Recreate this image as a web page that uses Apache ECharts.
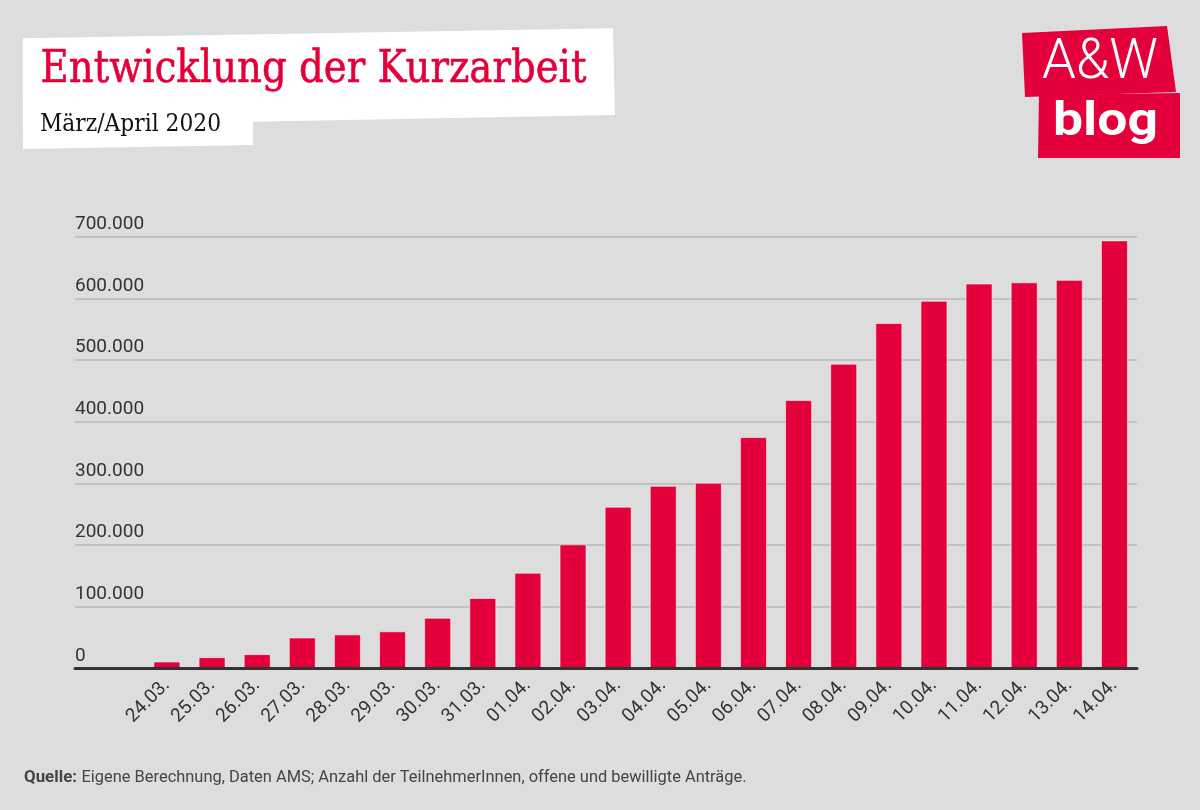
<!DOCTYPE html>
<html>
<head>
<meta charset="utf-8">
<script src="https://cdn.jsdelivr.net/npm/echarts@6/dist/echarts.min.js"></script>
<style>
html,body{margin:0;padding:0;background:#dddddd;}
#chart{width:1200px;height:810px;}
</style>
</head>
<body>
<div id="chart"></div>
<script>
// ---- data ----
const categories = ['24.03.','25.03.','26.03.','27.03.','28.03.','29.03.','30.03.','31.03.',
  '01.04.','02.04.','03.04.','04.04.','05.04.','06.04.','07.04.','08.04.','09.04.','10.04.',
  '11.04.','12.04.','13.04.','14.04.'];
const kurzarbeit = [11000,18000,23000,50000,55000,60000,82000,114000,
  155000,201000,262000,296000,301000,375000,435000,494000,560000,596000,
  624000,626000,630000,694000];
const yTicks = [0,100000,200000,300000,400000,500000,600000,700000];
const titleText = 'Entwicklung der Kurzarbeit';
const subtitleText = 'März/April 2020';
const sourceLabel = 'Quelle:';
const sourceText = 'Eigene Berechnung, Daten AMS; Anzahl der TeilnehmerInnen, offene und bewilligte Anträge.';

// ---- helpers ----
const mctx = document.createElement('canvas').getContext('2d');
function fitScale(text, font, target){
  mctx.font = font;
  const w = mctx.measureText(text).width;
  return target / w;
}
function fmt(v){ return String(v).replace(/\B(?=(\d{3})+(?!\d))/g,'.'); }

const RED = '#e4003a';
const titleFont = '45px "DejaVu Serif"';
const subFont = '25px "DejaVu Serif"';
const srcBoldFont = 'bold 16px Roboto';
const srcFont = '16px Roboto';
const awFont = '300 56px Roboto';
const blogFont = 'bold 47px Roboto';

const chart = echarts.init(document.getElementById('chart'));
const yMax = yTicks[yTicks.length-1];
const yStep = yTicks[1]-yTicks[0];

chart.setOption({
  backgroundColor: '#dddddd',
  animation: false,
  grid: [
    {left: 75, right: 63, top: 236.7, bottom: 141.7},
    {left: 144.4, right: 63, top: 236.7, bottom: 141.7}
  ],
  xAxis: [
    {type:'category', gridIndex:0, data: categories, z: 10,
     axisLine:{show:true, lineStyle:{color:'#333333', width:3}},
     axisTick:{show:false}, axisLabel:{show:false}, splitLine:{show:false}},
    {type:'category', gridIndex:1, data: categories,
     axisLine:{show:false}, axisTick:{show:false},
     axisLabel:{rotate:45, margin:14, color:'#333333', fontFamily:'Roboto', fontSize:19, interval:0}}
  ],
  yAxis: [
    {type:'value', gridIndex:0, min:0, max:yMax, interval:yStep,
     axisLine:{show:false}, axisTick:{show:false},
     splitLine:{show:true, lineStyle:{color:'#b8b8b8', width:1.5}},
     axisLabel:{inside:true, margin:0, align:'left', verticalAlign:'bottom',
       color:'#333333', fontFamily:'Roboto', fontSize:19, padding:[0,0,3,0],
       formatter: fmt}},
    {type:'value', gridIndex:1, min:0, max:yMax, interval:yStep, show:false,
     splitLine:{show:false}}
  ],
  series: [{
    type:'bar', xAxisIndex:1, yAxisIndex:1, data: kurzarbeit, barWidth: 27,
    itemStyle:{color: RED, borderColor:'rgba(255,255,255,0.55)', borderWidth:1}
  }],
  graphic: [
    // white title box
    {type:'polygon', z:1, shape:{points:[[22.7,38.3],[613,28.3],[615,115],[253,121.7],[253,145],[23,149]]},
     style:{fill:'#ffffff'}},
    {type:'text', z:2, x:40.5, y:70, scaleX: fitScale(titleText, titleFont, 546),
     style:{text:titleText, font:titleFont, fill:RED, verticalAlign:'middle', stroke:RED, lineWidth:0.6}},
    {type:'text', z:2, x:40, y:124, scaleX: fitScale(subtitleText, subFont, 181),
     style:{text:subtitleText, font:subFont, fill:'#111111', verticalAlign:'middle'}},
    // logo
    {type:'polygon', z:1, shape:{points:[[1022,33],[1167,26],[1176,92],[1025,97]]}, style:{fill:RED}},
    {type:'polygon', z:1, shape:{points:[[1039,95],[1180,93],[1180,158],[1038,158]]}, style:{fill:RED}},
    {type:'text', z:2, x:1042, y:64, scaleX: fitScale('A&W', awFont, 116),
     style:{text:'A&W', font:awFont, fill:'#ffffff', verticalAlign:'middle'}},
    {type:'text', z:2, x:1053, y:123, scaleX: fitScale('blog', blogFont, 105),
     style:{text:'blog', font:blogFont, fill:'#ffffff', verticalAlign:'middle'}},
    // source
    {type:'text', z:2, x:24, y:777.5, scaleX: fitScale(sourceLabel, srcBoldFont, 53),
     style:{text:sourceLabel, font:srcBoldFont, fill:'#444444', verticalAlign:'middle'}},
    {type:'text', z:2, x:81.5, y:777.5, scaleX: fitScale(sourceText, srcFont, 665),
     style:{text:sourceText, font:srcFont, fill:'#444444', verticalAlign:'middle'}}
  ]
});
</script>
</body>
</html>
